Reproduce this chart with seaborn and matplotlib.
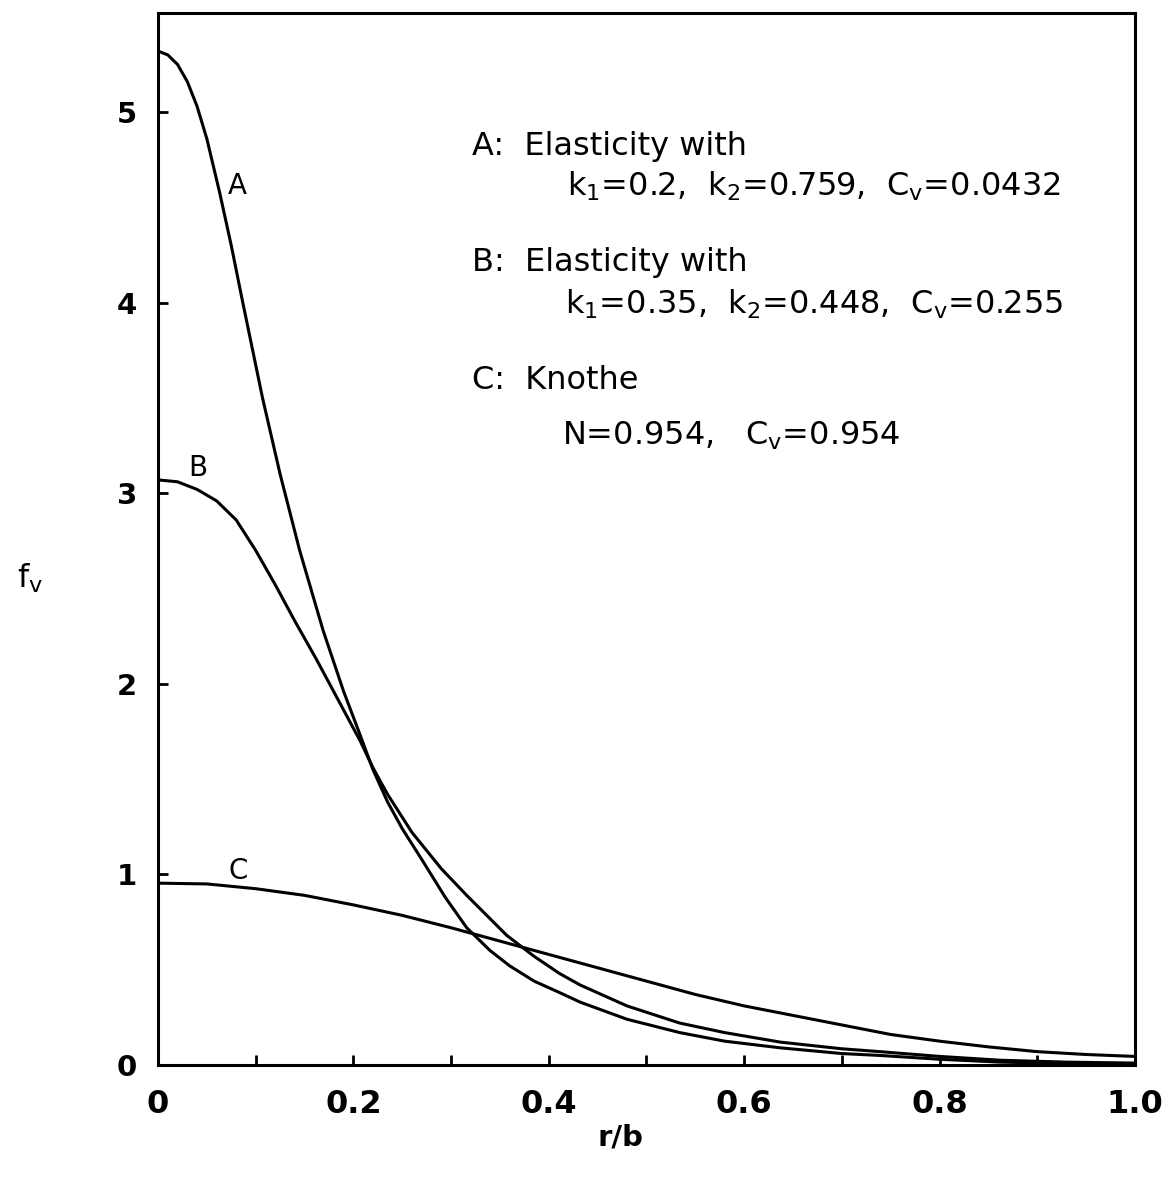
import numpy as np
import pandas as pd
import matplotlib
matplotlib.use("Agg")
import matplotlib.pyplot as plt
import seaborn as sns

# values (r/b, f_v)
r_a = [0.000, 0.010, 0.020, 0.030, 0.040, 0.050, 0.063, 0.075, 0.086, 0.107,
       0.125, 0.145, 0.169, 0.190, 0.207, 0.220, 0.235, 0.250, 0.271, 0.294,
       0.316, 0.340, 0.360, 0.385, 0.411, 0.432, 0.480, 0.534, 0.580, 0.637,
       0.700, 0.739, 0.800, 0.862, 0.930, 1.000]
fv_a = [5.32, 5.30, 5.25, 5.16, 5.03, 4.86, 4.58, 4.30, 4.02, 3.50,
        3.10, 2.70, 2.28, 1.96, 1.73, 1.55, 1.38, 1.24, 1.07, 0.88,
        0.72, 0.60, 0.52, 0.44, 0.38, 0.33, 0.24, 0.17, 0.125, 0.09,
        0.06, 0.05, 0.03, 0.015, 0.008, 0.005]

r_b = [0.000, 0.020, 0.040, 0.060, 0.080, 0.100, 0.120, 0.140, 0.162, 0.185,
       0.207, 0.220, 0.235, 0.260, 0.290, 0.316, 0.357, 0.385, 0.411, 0.432,
       0.480, 0.534, 0.580, 0.637, 0.700, 0.739, 0.800, 0.862, 0.930, 1.000]
fv_b = [3.07, 3.06, 3.02, 2.96, 2.86, 2.70, 2.52, 2.33, 2.13, 1.91,
        1.70, 1.56, 1.42, 1.22, 1.03, 0.89, 0.68, 0.57, 0.48, 0.42,
        0.31, 0.22, 0.17, 0.12, 0.085, 0.07, 0.045, 0.025, 0.015, 0.01]

r_c = [0.0, 0.05, 0.1, 0.15, 0.2, 0.25, 0.3, 0.35, 0.4, 0.45, 0.5,
       0.55, 0.6, 0.65, 0.7, 0.75, 0.8, 0.85, 0.9, 0.95, 1.0]
fv_c = [0.954, 0.95, 0.925, 0.89, 0.84, 0.785, 0.72, 0.65, 0.58, 0.51, 0.44,
        0.37, 0.31, 0.26, 0.21, 0.16, 0.125, 0.095, 0.07, 0.055, 0.045]

curve_names = ["A", "B", "C"]
legend_lines = [
    "A:  Elasticity with",
    "$k_1$=0.2,  $k_2$=0.759,  $C_v$=0.0432",
    "B:  Elasticity with",
    "$k_1$=0.35,  $k_2$=0.448,  $C_v$=0.255",
    "C:  Knothe",
    "N=0.954,   $C_v$=0.954",
]
x_ticks = [0, 0.2, 0.4, 0.6, 0.8, 1.0]
x_ticklabels = ["0", "0.2", "0.4", "0.6", "0.8", "1.0"]
y_ticks = [0, 1, 2, 3, 4, 5]

df = pd.concat([
    pd.DataFrame({"r": r_a, "fv": fv_a, "curve": "A"}),
    pd.DataFrame({"r": r_b, "fv": fv_b, "curve": "B"}),
    pd.DataFrame({"r": r_c, "fv": fv_c, "curve": "C"}),
])

sns.set_style("ticks")
plt.rcParams["font.family"] = ["DejaVu Sans"]
plt.rcParams["mathtext.default"] = "regular"
plt.rcParams["text.color"] = "black"

fig = plt.figure(figsize=(11.66, 11.89), dpi=100)
ax = fig.add_axes([0.1355, 0.1043, 0.8379, 0.8848])

sns.lineplot(data=df, x="r", y="fv", units="curve", estimator=None,
             color="black", linewidth=2.2, sort=False, ax=ax)

ax.set_xlim(0, 1.0)
ax.set_ylim(0, 5.52)
ax.set_xticks(x_ticks)
ax.set_xticklabels(x_ticklabels)
ax.set_xticks(np.arange(0.1, 1.0, 0.2), minor=True)
ax.set_yticks(y_ticks)
ax.tick_params(which="both", direction="in", length=7, width=2, colors="black")
ax.tick_params(axis="x", labelsize=23, pad=17)
ax.tick_params(axis="y", labelsize=21, pad=15)
for lab in ax.get_xticklabels() + ax.get_yticklabels():
    lab.set_fontweight("bold")
for s in ax.spines.values():
    s.set_linewidth(2.2)
    s.set_color("black")
ax.set_xlabel("")
ax.set_ylabel("")

# curve labels
label_pos = {"A": (0.081, 4.61), "B": (0.041, 3.13), "C": (0.082, 1.02)}
for name in curve_names:
    ax.text(*label_pos[name], name, fontsize=20, ha="center", va="center")

# parameter notes
y_rows = [4.82, 4.61, 4.21, 3.99, 3.59, 3.30]
x_rows = [0.321, 0.419, 0.321, 0.417, 0.321, 0.414]
for txt, xx, yy in zip(legend_lines, x_rows, y_rows):
    ax.text(xx, yy, txt, fontsize=23, ha="left", va="center")

fig.text(0.026, 0.514, "$f_v$", fontsize=23, ha="center", va="center")
fig.text(0.532, 0.043, "r/b", fontsize=21, ha="center", va="center", fontweight="bold")

fig.savefig("out.png", dpi=100, facecolor="white")
